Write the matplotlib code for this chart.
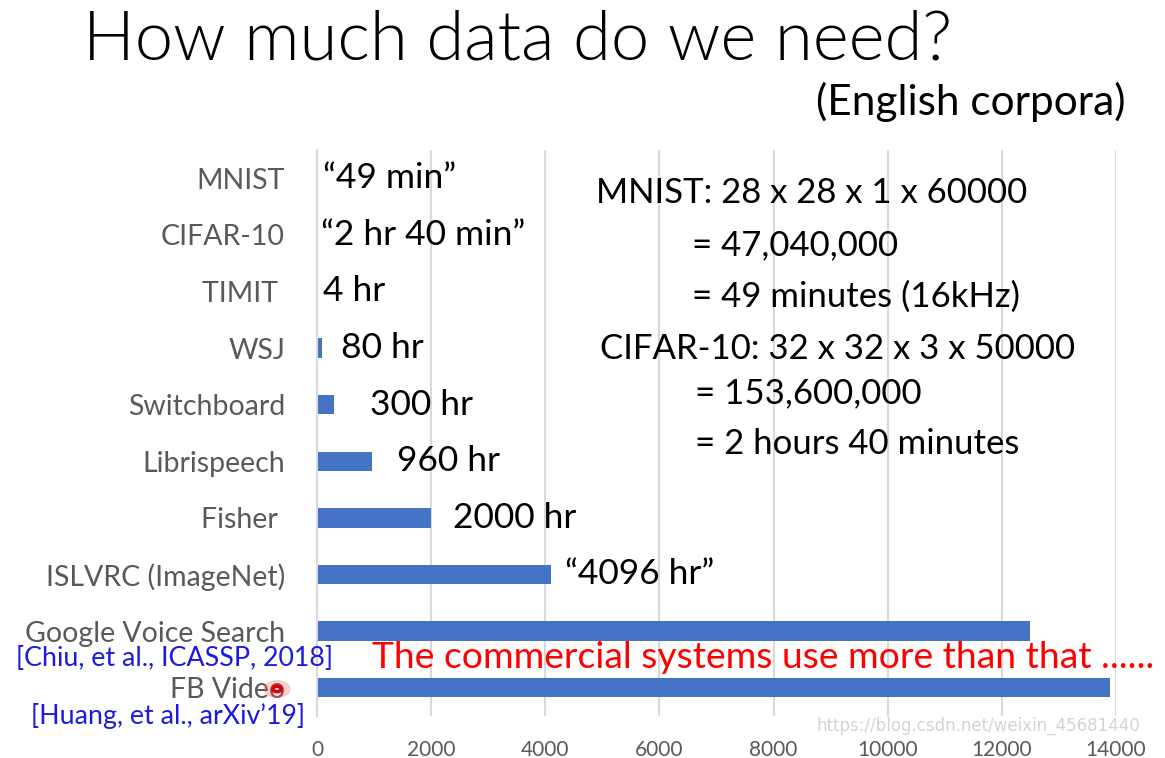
import matplotlib.pyplot as plt
import numpy as np

plt.rcParams['font.family'] = ['Lato', 'DejaVu Sans']

# datasets, top to bottom, hours of audio (or equivalent)
categories = ['MNIST', 'CIFAR-10', 'TIMIT ', 'WSJ', 'Switchboard', 'Librispeech',
              'Fisher ', 'ISLVRC (ImageNet)', 'Google Voice Search', 'FB Video']
hours = [49 / 60, 160 / 60, 4, 80, 300, 960, 2000, 4096, 12500, 13900]
value_labels = ['\u201c49 min\u201d', '\u201c2 hr 40 min\u201d', '4 hr', '80 hr', '300 hr',
                '960 hr', '2000 hr', '\u201c4096 hr\u201d', '', '']
label_pad = [4, 3, 4, 14, 26, 18, 16, 10, 0, 0]   # points right of bar end
xticks = [0, 2000, 4000, 6000, 8000, 10000, 12000, 14000]

notes = ['MNIST: 28 x 28 x 1 x 60000', '= 47,040,000', '= 49 minutes (16kHz)',
         'CIFAR-10: 32 x 32 x 3 x 50000', '= 153,600,000', '= 2 hours 40 minutes']
note_pos = [(596, 193), (692, 245), (692, 297), (600, 349), (695, 393), (695, 444)]

W, H = 1165, 758
fig = plt.figure(figsize=(W / 100, H / 100), dpi=100)
ax = fig.add_axes([317 / W, 1 - 716 / H, (1116 - 317) / W, (716 - 150) / H])

y = np.arange(len(categories))
ax.barh(y, hours, height=0.34, color='#4472c4', zorder=2)
ax.set_ylim(len(categories) - 0.5, -0.5)
ax.set_xlim(0, 14000)
ax.set_yticks(y)
ax.set_yticklabels(categories, fontsize=20.5, color='#595959')
ax.set_xticks(xticks)
ax.set_xticklabels([str(t) for t in xticks], fontsize=15, color='#595959')
ax.tick_params(axis='y', length=0, pad=23)
ax.tick_params(axis='x', length=0, pad=17)
ax.grid(axis='x', color='#d9d9d9', linewidth=1.5, zorder=0)
for s in ['top', 'right', 'bottom']:
    ax.spines[s].set_visible(False)
ax.spines['left'].set_color('#d9d9d9')
ax.spines['left'].set_linewidth(1.5)

for i, (v, lab) in enumerate(zip(hours, value_labels)):
    if lab:
        ax.annotate(lab, (v, i), xytext=(label_pad[i], 0), textcoords='offset points',
                    ha='left', va='center', fontsize=25.5, color='black')

for txt, (px, py) in zip(notes, note_pos):
    fig.text(px / W, 1 - py / H, txt, ha='left', va='center', fontsize=25, color='black')

fig.text(83 / W, 1 - 40 / H, 'How much data do we need?', ha='left', va='center',
         fontsize=49.5, fontweight=300, color='black')
fig.text(1125 / W, 1 - 102 / H, '(English corpora)', ha='right', va='center',
         fontsize=30.5, color='black')

fig.text(333 / W, 1 - 658 / H, '[Chiu, et al., ICASSP, 2018]', ha='right', va='center',
         fontsize=19.3, color='#1a1ae0')
fig.text(305 / W, 1 - 716 / H, '[Huang, et al., arXiv\u201919]', ha='right', va='center',
         fontsize=19.3, color='#1a1ae0')
fig.text(372 / W, 1 - 658 / H, 'The commercial systems use more than that ......',
         ha='left', va='center', fontsize=26.8, color='#ff0000')

# laser pointer dot
fig.patches.append(plt.Circle((277 / W, 1 - 689 / H), 0.011, transform=fig.transFigure,
                              color='#ff5050', alpha=0.25, zorder=5))
fig.patches.append(plt.Circle((277 / W, 1 - 689 / H), 0.0035, transform=fig.transFigure,
                              facecolor='white', edgecolor='#e00000', linewidth=2.5, zorder=6))

fig.text(1140 / W, 1 - 726 / H, 'https://blog.csdn.net/weixin_45681440', ha='right',
         va='center', fontsize=12, color='#c8c8c8', alpha=0.8, family=['DejaVu Sans'])

fig.savefig('out.png', dpi=100)
